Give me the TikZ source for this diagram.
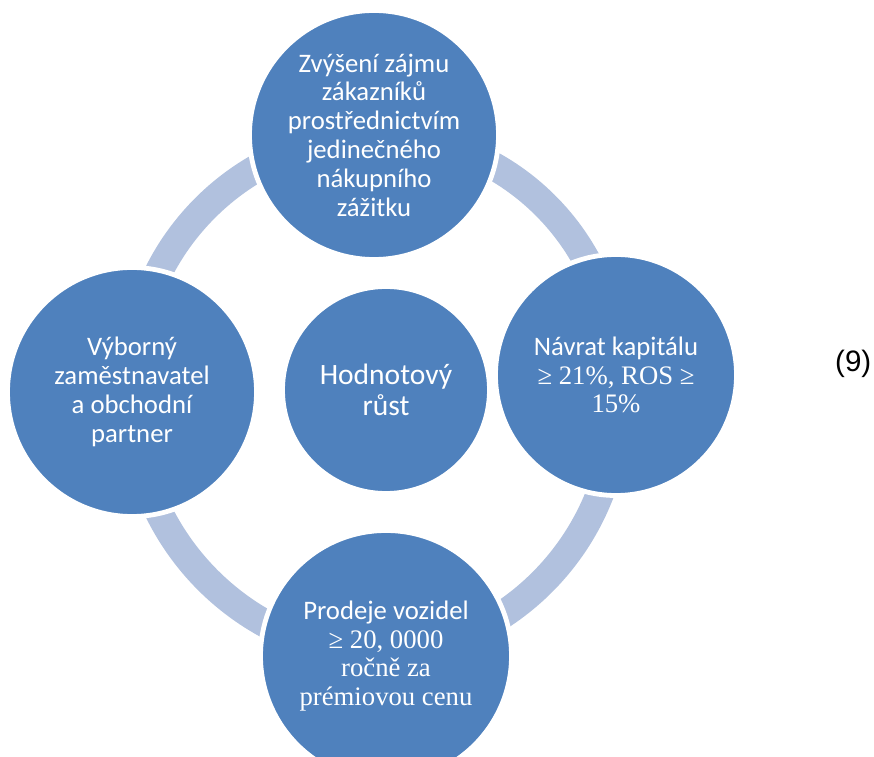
\documentclass[tikz,border=0pt]{standalone}
\usepackage{fontspec}
\setmainfont{Carlito}
\newfontfamily\romanfont{Liberation Serif}
\newfontfamily\arialfont{Liberation Sans}
\usetikzlibrary{backgrounds}
\definecolor{ballblue}{RGB}{79,129,189}
\definecolor{ringblue}{RGB}{177,193,222}
\begin{document}
\begin{tikzpicture}[bubble/.style={circle, fill=ballblue, draw=white, line width=.12cm, text=white, align=center, inner sep=0pt, font=\fontsize{19}{20.5}\selectfont},
  ring/.style={ringblue, line width=.7cm}]
\useasboundingbox (0,0) rectangle (21.85,18.9);
\clip (0,0) rectangle (21.85,18.9);
\node[bubble, minimum size=6.225cm] (goal) at (9.35,15.525) {Zvýšení zájmu\\zákazníků\\prostřednictvím\\jedinečného\\nákupního\\zážitku};
\node[bubble, minimum size=6.025cm] (capital) at (15.4,9.525) {Návrat kapitálu\\{\romanfont ≥ 21\%, ROS ≥}\\{\romanfont 15\%}};
\node[bubble, minimum size=6.275cm] (sales) at (9.65,2.5) {Prodeje vozidel\\{\romanfont ≥ 20, 0000}\\{\romanfont ročně za}\\{\romanfont prémiovou cenu}};
\node[bubble, minimum size=6.225cm] (employer) at (3.3,9.1) {Výborný\\zaměstnavatel\\a obchodní\\partner};
\node[bubble, minimum size=5.175cm, font=\fontsize{21}{22.5}\selectfont] (growth) at (9.65,9.15) {Hodnotový\\růst};
\node[font=\arialfont\fontsize{21}{24}\selectfont] (eqno) at (21.33,9.8) {(9)};
\begin{pgfonlayer}{background}
\draw[ring] (goal.center) to[bend left=45] (capital.center) to[bend left=45] (sales.center) to[bend left=45] (employer.center) to[bend left=45] (goal.center);
\end{pgfonlayer}
\end{tikzpicture}
\end{document}
